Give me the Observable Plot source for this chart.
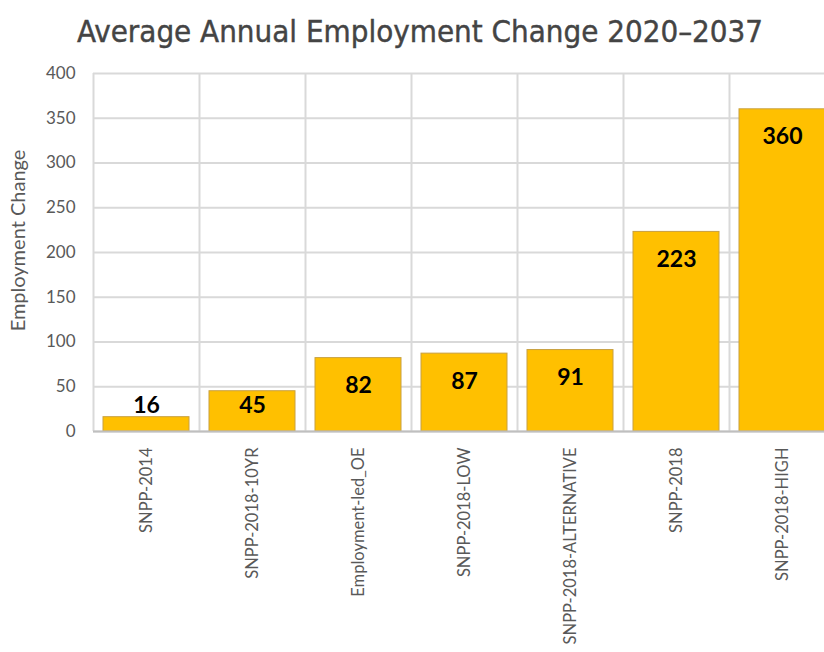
<!DOCTYPE html>
<html>
<head>
<meta charset="utf-8">
<script src="https://cdn.jsdelivr.net/npm/d3@7"></script>
<script src="https://cdn.jsdelivr.net/npm/@observablehq/plot@0.6"></script>
<style>
  html, body { margin: 0; padding: 0; background: #fff; }
  #title { height: 55px; width: 824px; text-align: center; font-family: "DejaVu Sans Condensed", "Liberation Sans Narrow", sans-serif; font-size: 31px; color: #444; line-height: 62px; padding-left: 16px; box-sizing: border-box; white-space: nowrap; -webkit-text-stroke: 0.4px #444; }
  #chart svg { display: block; }
</style>
</head>
<body>
<div id="title">Average Annual Employment Change 2020–2037</div>
<div id="chart"></div>
<script>
const categories = ["SNPP-2014", "SNPP-2018-10YR", "Employment-led_OE", "SNPP-2018-LOW", "SNPP-2018-ALTERNATIVE", "SNPP-2018", "SNPP-2018-HIGH"];
const values = [16, 45, 82, 87, 91, 223, 360];
const yTicks = [0, 50, 100, 150, 200, 250, 300, 350, 400];
const yLabel = "Employment Change";

const data = categories.map((c, i) => ({category: c, value: values[i]}));

const chart = Plot.plot({
  width: 824,
  height: 597,
  marginTop: 18,
  marginBottom: 221,
  marginLeft: 93,
  marginRight: 0,
  style: {fontFamily: "Lato, sans-serif", background: "#fff"},
  x: {domain: categories, range: [93, 835], paddingInner: 0.19, paddingOuter: 0.095, align: 0.5},
  y: {domain: [0, 400]},
  marks: [
    Plot.ruleY(yTicks, {stroke: "#d9d9d9", strokeWidth: 2}),
    Plot.ruleX(categories, {x: d => d, dx: -53, stroke: "#d9d9d9", strokeWidth: 2}),
    Plot.barY(data, {x: "category", y: "value", fill: "#FFC000", stroke: "#c8a040", strokeWidth: 1}),
    Plot.ruleY([0], {stroke: "#bfbfbf", strokeWidth: 2}),
    Plot.text(data, {x: "category", y: d => Math.max(d.value - 31, 29), text: d => String(d.value), fontWeight: "bold", fontSize: 23, fill: "#000"}),
    Plot.axisY({ticks: yTicks, tickSize: 0, tickPadding: 18, fontSize: 17, fill: "#595959", label: null}),
    Plot.text([yLabel], {frameAnchor: "left", textAnchor: "middle", rotate: -90, dx: -75, dy: -12, fontSize: 20, fill: "#595959"}),
    Plot.axisX({tickSize: 0, tickRotate: -90, tickPadding: 16, fontSize: 16.5, fill: "#595959", label: null})
  ]
});
document.getElementById("chart").appendChild(chart);
</script>
</body>
</html>
